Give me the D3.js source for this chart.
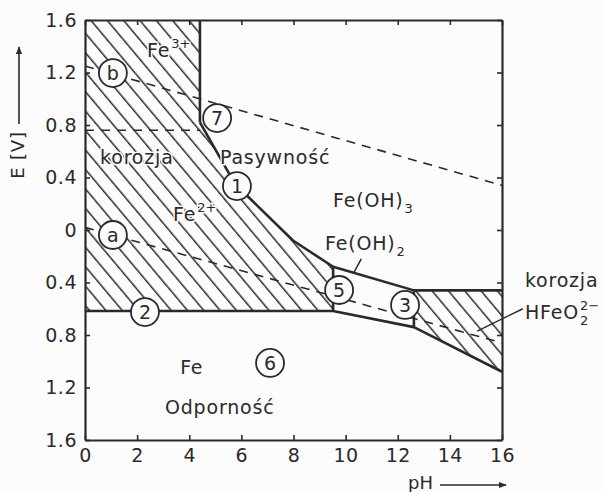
<!DOCTYPE html>
<html>
<head>
<meta charset="utf-8">
<script src="https://cdn.jsdelivr.net/npm/d3@7"></script>
<style>
  body { margin: 0; background: #fcfcfc; }
  text { font-family: "DejaVu Sans", sans-serif; fill: #2a2a2a; }
</style>
</head>
<body>
<svg></svg>
<script>
const [WIDTH, HEIGHT] = [603, 492]
const INK = '#2a2a2a'
const BG = '#fcfcfc'

// axes
const phTicks = [0, 2, 4, 6, 8, 10, 12, 14, 16]
const eTicks = [-1.6, -1.2, -0.8, -0.4, 0, 0.4, 0.8, 1.2, 1.6]

// boundaries [pH, E]
const fe3Fe2Line = [[0, 0.76], [4.41, 0.76]]
const fe3Vertical = [[4.41, 1.6], [4.41, 0.82]]
const line1 = [[4.41, 0.82], [5.76, 0.35], [7.98, -0.08], [9.52, -0.28]]
const feOH3FeOH2 = [[9.52, -0.28], [12.62, -0.46], [16, -0.46]]
const fe2FeOH2 = [[9.52, -0.28], [9.52, -0.617]]
const line2 = [[0, -0.617], [9.52, -0.617]]
const feLower = [[9.52, -0.617], [12.62, -0.74], [16, -1.08]]
const feOH2HFeO2 = [[12.62, -0.46], [12.62, -0.74]]
const waterA = [[0, 0.02], [16, -0.86]]
const waterB = [[0, 1.25], [16, 0.34]]

// corrosion zones
const corrosionLeft = [[0, 1.6], [4.41, 1.6], [4.41, 0.82], [5.76, 0.35], [7.98, -0.08],
    [9.52, -0.28], [9.52, -0.617], [0, -0.617]]
const corrosionRight = [[12.62, -0.46], [16, -0.46], [16, -1.08], [12.62, -0.74]]

// circled numbers
const markers = [
    { label: 'b', ph: 1.07, e: 1.196 },
    { label: 'a', ph: 1.07, e: -0.038 },
    { label: '7', ph: 5.07, e: 0.853 },
    { label: '1', ph: 5.83, e: 0.335 },
    { label: '2', ph: 2.30, e: -0.625 },
    { label: '6', ph: 7.10, e: -1.013 },
    { label: '5', ph: 9.75, e: -0.457 },
    { label: '3', ph: 12.28, e: -0.571 },
]

// region labels
const labels = [
    { text: 'Fe', sup: '3+', ph: 2.38, e: 1.37 },
    { text: 'korozja', ph: 0.58, e: 0.556 },
    { text: 'Pasywność', ph: 5.18, e: 0.556 },
    { text: 'Fe', sup: '2+', ph: 3.38, e: 0.12 },
    { text: 'Fe(OH)', sub: '3', ph: 9.52, e: 0.229 },
    { text: 'Fe(OH)', sub: '2', ph: 9.21, e: -0.10 },
    { text: 'Fe', ph: 3.65, e: -1.044 },
    { text: 'Odporność', ph: 3.07, e: -1.349 },
    { text: 'korozja', ph: 16.88, e: -0.381 },
    { text: 'HFeO', sub: '2', sup: '2−', ph: 16.88, e: -0.625 },
]

const svg = d3.select('svg').attr('width', WIDTH).attr('height', HEIGHT)

const x = d3.scaleLinear().domain([0, 16]).range([85, 502])
const y = d3.scaleLinear().domain([-1.6, 1.6]).range([440, 20])
const line = d3.line().x(d => x(d[0])).y(d => y(d[1]))

// hatch pattern
const defs = svg.append('defs')
const pat = defs.append('pattern')
    .attr('id', 'hatch')
    .attr('patternUnits', 'userSpaceOnUse')
    .attr('width', 20).attr('height', 12.5)
    .attr('patternTransform', 'rotate(50)')
pat.append('line')
    .attr('x1', 0).attr('x2', 20).attr('y1', 6).attr('y2', 6)
    .attr('stroke', INK).attr('stroke-width', 1.5)

svg.selectAll('path.zone')
    .data([corrosionLeft, corrosionRight])
    .join('path')
    .attr('class', 'zone')
    .attr('d', d => line(d) + 'Z')
    .attr('fill', 'url(#hatch)')

// dashed lines
svg.selectAll('path.dash')
    .data([waterA, waterB, fe3Fe2Line])
    .join('path')
    .attr('class', 'dash')
    .attr('d', line)
    .attr('fill', 'none')
    .attr('stroke', INK)
    .attr('stroke-width', 1.6)
    .attr('stroke-dasharray', '9,7')

// solid boundaries
svg.selectAll('path.bound')
    .data([fe3Vertical, line1, feOH3FeOH2, fe2FeOH2, line2, feLower, feOH2HFeO2])
    .join('path')
    .attr('class', 'bound')
    .attr('d', line)
    .attr('fill', 'none')
    .attr('stroke', INK)
    .attr('stroke-width', 2.6)
    .attr('stroke-linejoin', 'round')

// axes, ticks inward
const fmtE = d => d === 0 ? '0' : Math.abs(d).toFixed(1)
const axB = svg.append('g').attr('transform', `translate(0,${y(-1.6)})`)
    .call(d3.axisBottom(x).tickValues(phTicks).tickSizeInner(-5).tickSizeOuter(0).tickPadding(9))
const axL = svg.append('g').attr('transform', `translate(${x(0)},0)`)
    .call(d3.axisLeft(y).tickValues(eTicks).tickFormat(fmtE).tickSizeInner(-5).tickSizeOuter(0).tickPadding(8))
const axT = svg.append('g').attr('transform', `translate(0,${y(1.6)})`)
    .call(d3.axisTop(x).tickValues(phTicks).tickSizeInner(-5).tickSizeOuter(0).tickFormat(''))
const axR = svg.append('g').attr('transform', `translate(${x(16)},0)`)
    .call(d3.axisRight(y).tickValues(eTicks).tickSizeInner(-5).tickSizeOuter(0).tickFormat(''))
for (const ax of [axB, axL, axT, axR]) {
    ax.select('.domain').attr('stroke', INK).attr('stroke-width', 2.2)
    ax.selectAll('.tick line').attr('stroke', INK).attr('stroke-width', 1.6)
    ax.selectAll('.tick text').attr('font-size', 19).attr('fill', INK)
        .attr('letter-spacing', 0.5)
        .style('font-family', '"DejaVu Sans", sans-serif')
}

// leaders
svg.append('path').attr('d', line([[10.3, -0.33], [10.6, -0.22]]))
    .attr('stroke', INK).attr('stroke-width', 1.5)
svg.append('path').attr('d', line([[15.05, -0.77], [16.8, -0.60]]))
    .attr('stroke', INK).attr('stroke-width', 1.5)

// circled markers
const mk = svg.selectAll('g.mk').data(markers).join('g')
    .attr('class', 'mk')
    .attr('transform', d => `translate(${x(d.ph)},${y(d.e)})`)
mk.append('circle').attr('r', 14)
    .attr('fill', BG).attr('stroke', INK).attr('stroke-width', 1.8)
mk.append('text').attr('text-anchor', 'middle').attr('dy', '0.36em')
    .attr('font-size', 19).text(d => d.label)

// region labels, with a light halo so hatching breaks around them
function halo(sel) {
    return sel.attr('stroke', BG).attr('stroke-width', 3).attr('paint-order', 'stroke')
}
for (const l of labels) {
    const t = halo(svg.append('text'))
        .attr('x', x(l.ph)).attr('y', y(l.e)).attr('dy', '0.36em')
        .attr('font-size', 19).attr('letter-spacing', 0.8).text(l.text)
    const w = t.node().getComputedTextLength()
    if (l.sup) {
        halo(svg.append('text')).attr('x', x(l.ph) + w + 1).attr('y', y(l.e) - 7)
            .attr('dy', '0.36em').attr('font-size', 13).text(l.sup)
    }
    if (l.sub) {
        halo(svg.append('text')).attr('x', x(l.ph) + w + 1).attr('y', y(l.e) + 8)
            .attr('dy', '0.36em').attr('font-size', 13).text(l.sub)
    }
}

// axis titles with arrows
defs.append('marker').attr('id', 'arrow')
    .attr('viewBox', '0 0 10 10').attr('refX', 9).attr('refY', 5)
    .attr('markerWidth', 5).attr('markerHeight', 5).attr('orient', 'auto')
    .append('path').attr('d', 'M0,1 L10,5 L0,9 Z').attr('fill', INK)

svg.append('text')
    .attr('transform', 'translate(24,155) rotate(-90)')
    .attr('text-anchor', 'middle').attr('font-size', 18).attr('letter-spacing', 0.8).text('E [V]')
svg.append('line').attr('x1', 19).attr('x2', 19).attr('y1', 124).attr('y2', 47)
    .attr('stroke', INK).attr('stroke-width', 1.6).attr('marker-end', 'url(#arrow)')

svg.append('text').attr('x', 408).attr('y', 489)
    .attr('font-size', 18).text('pH')
svg.append('line').attr('x1', 440).attr('x2', 506).attr('y1', 485).attr('y2', 485)
    .attr('stroke', INK).attr('stroke-width', 1.6).attr('marker-end', 'url(#arrow)')
</script>
</body>
</html>
